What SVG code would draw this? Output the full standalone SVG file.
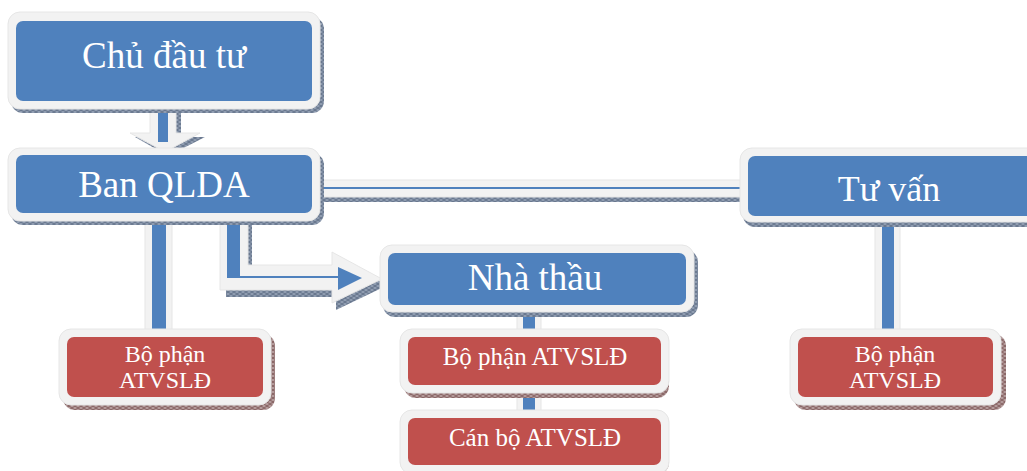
<svg xmlns="http://www.w3.org/2000/svg" width="1027" height="471" viewBox="0 0 1027 471">
<defs>
<pattern id="hb" width="6" height="4" patternUnits="userSpaceOnUse">
<rect width="6" height="4" fill="#8f9cb0"/>
<path d="M0 0L6 4M6 0L0 4" stroke="#5a6a82" stroke-width="0.8"/>
</pattern>
<pattern id="hr" width="6" height="4" patternUnits="userSpaceOnUse">
<rect width="6" height="4" fill="#b39a9a"/>
<path d="M0 0L6 4M6 0L0 4" stroke="#7a5252" stroke-width="0.8"/>
</pattern>
<style>
.sh{fill:url(#hb)}
.shr{fill:url(#hr)}
.out{fill:#f2f2f2;stroke:#e6e6e6;stroke-width:1}
.blue{fill:#4f81bd}
.red{fill:#c0504d}
.tb{font-family:"Liberation Serif","DejaVu Serif",serif;fill:#ffffff;text-anchor:middle}
</style>
</defs>
<rect width="1027" height="471" fill="#ffffff"/>
<g id="connectors">
<!-- Chu dau tu -> Ban QLDA -->
<polygon class="sh" points="153,112 181,112 181,137 205,137 168,156 135,137 153,137"/>
<polygon class="out" points="150,108 176,108 176,133 200,133 165,152 130,133 150,133"/>
<rect class="blue" x="158" y="108" width="10" height="34"/>
<!-- Ban QLDA -> Tu van -->
<rect class="sh" x="314" y="196" width="432" height="6"/>
<rect class="out" x="312" y="180" width="436" height="17"/>
<rect class="blue" x="318" y="187" width="424" height="2"/>
<!-- Ban QLDA -> Bo phan left -->
<rect class="sh" x="160" y="221" width="12" height="110"/>
<rect class="out" x="145" y="218" width="27" height="113"/>
<rect class="blue" x="152" y="218" width="14" height="113"/>
<!-- Ban QLDA -> Nha thau elbow -->
<polygon class="sh" points="226,221 252,221 252,272 336,272 336,260 388,285 336,310 336,297 226,297"/>
<polygon class="out" points="220,218 248,218 248,265 332,265 332,252 382,279 332,303 332,290 220,290"/>
<rect class="blue" x="227" y="218" width="13" height="60"/>
<rect class="blue" x="227" y="276" width="112" height="2"/>
<polygon class="blue" points="338,267 362,278 338,290"/>
<!-- Nha thau -> Bo phan middle -->
<rect class="out" x="517" y="310" width="24" height="30"/>
<rect class="blue" x="523" y="310" width="12" height="30"/>
<rect class="out" x="517" y="390" width="24" height="30"/>
<rect class="blue" x="523" y="390" width="12" height="30"/>
<!-- Tu van -> Bo phan right -->
<rect class="sh" x="890" y="224" width="10" height="106"/>
<rect class="out" x="875" y="220" width="25" height="110"/>
<rect class="blue" x="882" y="220" width="12" height="110"/>
</g>
<g id="chu-dau-tu">
<rect class="sh" x="11" y="17" width="313" height="96" rx="12"/>
<rect class="out" x="8" y="12" width="312" height="97" rx="12"/>
<rect class="blue" x="16" y="21" width="296" height="80" rx="7"/>
<text class="tb" x="164" y="68" font-size="37">Chủ đầu tư</text>
</g>
<g id="ban-qlda">
<rect class="sh" x="11" y="153" width="313" height="72" rx="12"/>
<rect class="out" x="8" y="148" width="312" height="73" rx="12"/>
<rect class="blue" x="16" y="155" width="296" height="58" rx="7"/>
<text class="tb" x="164" y="197" font-size="37">Ban QLDA</text>
</g>
<g id="tu-van">
<rect class="sh" x="743" y="153" width="300" height="74" rx="12"/>
<rect class="out" x="740" y="148" width="300" height="74" rx="12"/>
<rect class="blue" x="748" y="156" width="290" height="60" rx="7"/>
<text class="tb" x="889" y="201" font-size="36">Tư vấn</text>
</g>
<g id="nha-thau">
<rect class="sh" x="383" y="250" width="315" height="67" rx="12"/>
<rect class="out" x="380" y="245" width="314" height="67" rx="12"/>
<rect class="blue" x="388" y="253" width="298" height="52" rx="7"/>
<text class="tb" x="535" y="290" font-size="37">Nhà thầu</text>
</g>
<g id="bo-phan-left">
<rect class="shr" x="63" y="334" width="212" height="76" rx="12"/>
<rect class="out" x="59" y="329" width="212" height="76" rx="12"/>
<rect class="red" x="67" y="337" width="196" height="60" rx="7"/>
<text class="tb" x="165" y="362" font-size="24">Bộ phận</text>
<text class="tb" x="165" y="388" font-size="24">ATVSLĐ</text>
</g>
<g id="bo-phan-mid">
<rect class="shr" x="404" y="334" width="265" height="64" rx="12"/>
<rect class="out" x="400" y="329" width="269" height="64" rx="12"/>
<rect class="red" x="408" y="337" width="253" height="48" rx="7"/>
<text class="tb" x="535" y="365" font-size="25">Bộ phận ATVSLĐ</text>
</g>
<g id="can-bo">
<rect class="shr" x="404" y="415" width="265" height="60" rx="12"/>
<rect class="out" x="400" y="410" width="269" height="64" rx="12"/>
<rect class="red" x="408" y="418" width="253" height="47" rx="7"/>
<text class="tb" x="535" y="446" font-size="25">Cán bộ ATVSLĐ</text>
</g>
<g id="bo-phan-right">
<rect class="shr" x="794" y="334" width="212" height="76" rx="12"/>
<rect class="out" x="790" y="329" width="211" height="76" rx="12"/>
<rect class="red" x="798" y="337" width="195" height="60" rx="7"/>
<text class="tb" x="895" y="362" font-size="24">Bộ phận</text>
<text class="tb" x="895" y="388" font-size="24">ATVSLĐ</text>
</g>
</svg>
